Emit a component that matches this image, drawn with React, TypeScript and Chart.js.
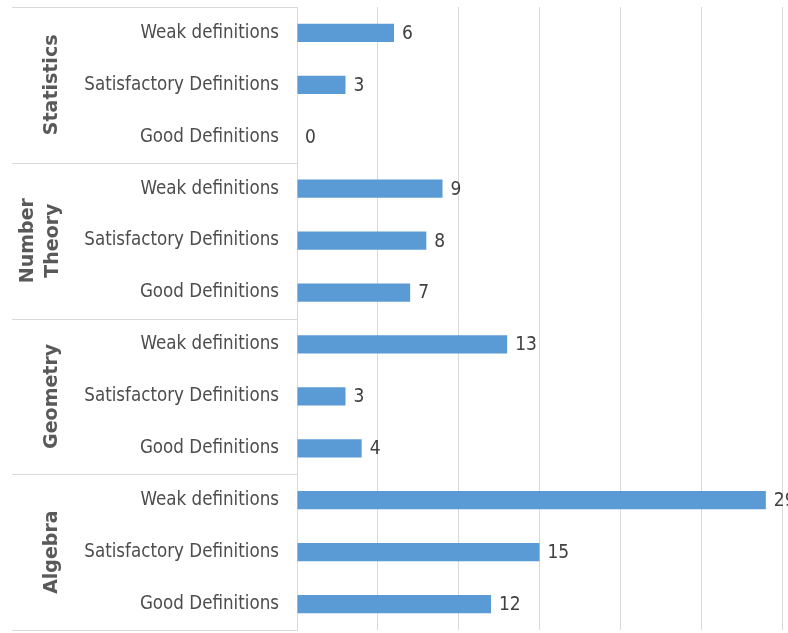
import React, { useEffect, useRef } from "react";
import { Chart, registerables } from "chart.js";

Chart.register(...registerables);

const groupNames = ["Statistics", "Number Theory", "Geometry", "Algebra"];
const groupLabelLines = [["Statistics"], ["Number", "Theory"], ["Geometry"], ["Algebra"]];
const subCategories = ["Weak definitions", "Satisfactory Definitions", "Good Definitions"];
const statisticsValues = [6, 3, 0];
const numberTheoryValues = [9, 8, 7];
const geometryValues = [13, 3, 4];
const algebraValues = [29, 15, 12];
const xMin = 0;
const xMax = 30;
const xStep = 5;

const FONT = "'Liberation Sans Narrow', 'DejaVu Sans Condensed', 'Open Sans', sans-serif";
const GROUP_FONT = "'DejaVu Sans', sans-serif";

const categoryLabels: string[] = [];
groupNames.forEach(() => subCategories.forEach((s) => categoryLabels.push(s)));
const allValues = [
  ...statisticsValues,
  ...numberTheoryValues,
  ...geometryValues,
  ...algebraValues,
];

const groupPlugin = {
  id: "groupPlugin",
  afterDraw(chart: any) {
    const ctx = chart.ctx;
    const y = chart.scales.y;
    const area = chart.chartArea;
    const n = categoryLabels.length;
    const band = (y.bottom - y.top) / n;
    ctx.save();
    // separators
    ctx.strokeStyle = "#d9d9d9";
    ctx.lineWidth = 1;
    for (let g = 0; g <= groupNames.length; g++) {
      const yy = Math.round(y.top + g * subCategories.length * band) + 0.5;
      ctx.beginPath();
      ctx.moveTo(12, yy);
      ctx.lineTo(area.left, yy);
      ctx.stroke();
    }
    // group labels
    ctx.fillStyle = "#595959";
    ctx.font = "bold 19px " + GROUP_FONT;
    ctx.textAlign = "center";
    ctx.textBaseline = "middle";
    groupLabelLines.forEach((lines, g) => {
      const cy = y.top + (g * subCategories.length + subCategories.length / 2) * band;
      const lineH = 25;
      const cx = lines.length > 1 ? 40.5 - ((lines.length - 1) * lineH) / 2 : 52;
      lines.forEach((line, i) => {
        ctx.save();
        ctx.translate(cx + i * lineH, cy);
        ctx.rotate(-Math.PI / 2);
        ctx.fillText(line, 0, 0);
        ctx.restore();
      });
    });
    // data labels
    const meta = chart.getDatasetMeta(0);
    ctx.fillStyle = "#404040";
    ctx.font = "19px " + FONT;
    ctx.textAlign = "left";
    ctx.textBaseline = "middle";
    meta.data.forEach((bar: any, i: number) => {
      ctx.fillText(String(allValues[i]), bar.x + 8, bar.y + 1);
    });
    ctx.restore();
  },
};

export default function App() {
  const ref = useRef<HTMLCanvasElement>(null);
  useEffect(() => {
    document.body.style.margin = "0";
    const chart = new Chart(ref.current as HTMLCanvasElement, {
      type: "bar",
      data: {
        labels: categoryLabels,
        datasets: [
          {
            data: allValues,
            backgroundColor: "#5b9bd5",
            borderWidth: 0,
            categoryPercentage: 1,
            barPercentage: 0.35,
          },
        ],
      },
      options: {
        indexAxis: "y",
        responsive: false,
        animation: false,
        layout: { padding: { top: 7, bottom: 3, right: 6, left: 0 } },
        plugins: { legend: { display: false }, tooltip: { enabled: false } },
        scales: {
          x: {
            min: xMin,
            max: xMax,
            ticks: { stepSize: xStep, display: false },
            grid: { color: "#d9d9d9", drawTicks: false },
            border: { display: false },
          },
          y: {
            grid: { display: false, drawTicks: false },
            border: { display: true, color: "#d9d9d9" },
            ticks: {
              color: "#4d4d4d",
              font: { family: FONT, size: 18.6 },
              padding: 18,
            },
            afterFit: (scale: any) => {
              scale.width = 297;
              scale.paddingTop = 0;
              scale.paddingBottom = 0;
            },
          },
        },
      },
      plugins: [groupPlugin],
    });
    return () => chart.destroy();
  }, []);
  return (
    <div style={{ position: "absolute", left: 0, top: 0, width: 788, height: 633, background: "#fff" }}>
      <canvas ref={ref} width={788} height={633} />
    </div>
  );
}
